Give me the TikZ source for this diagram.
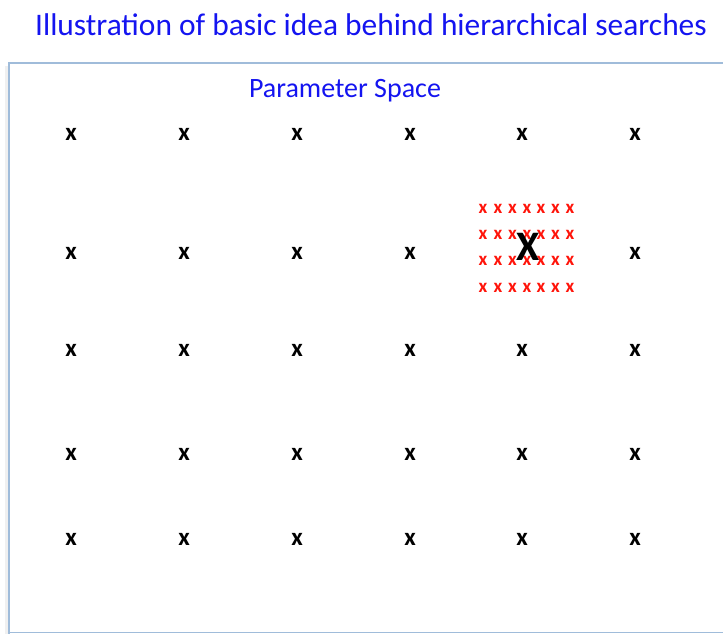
\documentclass[tikz,border=0pt]{standalone}
\usepackage{fontspec}
\setmainfont{Carlito}
\definecolor{titleblue}{RGB}{20,20,240}
\definecolor{framecol}{RGB}{160,188,218}
\definecolor{redx}{RGB}{255,20,10}
\tikzset{
  gridx/.style={inner sep=0pt, font=\fontsize{25}{25}\selectfont\bfseries},
  finex/.style={inner sep=0pt, text=redx, font=\fontsize{19}{19}\selectfont\bfseries},
  bigx/.style={inner sep=0pt, font=\fontsize{42}{42}\selectfont\bfseries},
  titletext/.style={inner sep=0pt, text=titleblue},
}
\begin{document}
\begin{tikzpicture}[x=1pt,y=-1pt]
\useasboundingbox (0,0) rectangle (723,633);
\fill[white] (0,0) rectangle (723,633);
% frame with faint shadow
\draw[line width=3pt, black!6] (6,66) -- (6,634);
\draw[line width=2pt, framecol] (9,633.5) -- (9,63) -- (725,63);
\draw[line width=1.5pt, framecol] (9,632.5) -- (725,632.5);
% titles
\node[titletext, font=\fontsize{31.4}{31.4}\selectfont] (title) at (371,25) {Illustration of basic idea behind hierarchical searches};
\node[titletext, font=\fontsize{28}{28}\selectfont] (ptitle) at (345,91) {Parameter Space};
% coarse grid
\foreach \c/\xx in {1/71,2/184,3/297,4/410,5/522,6/635}{
  \foreach \r/\yy in {1/134,2/253,3/350,4/454,5/539}{
    \ifnum\c=5 \ifnum\r=2 \else
      \node[gridx] (g\c\r) at (\xx,\yy) {x};
    \fi\else
      \node[gridx] (g\c\r) at (\xx,\yy) {x};
    \fi
  }
}
% fine grid
\foreach \c/\xx in {1/483,2/498,3/512.5,4/527,5/541,6/555.5,7/570}{
  \foreach \r/\yy in {1/209,2/235,3/261,4/288}{
    \node[finex] (f\c\r) at (\xx,\yy) {x};
  }
}
\node[bigx] (best) at (528,247) {X};
\end{tikzpicture}
\end{document}
